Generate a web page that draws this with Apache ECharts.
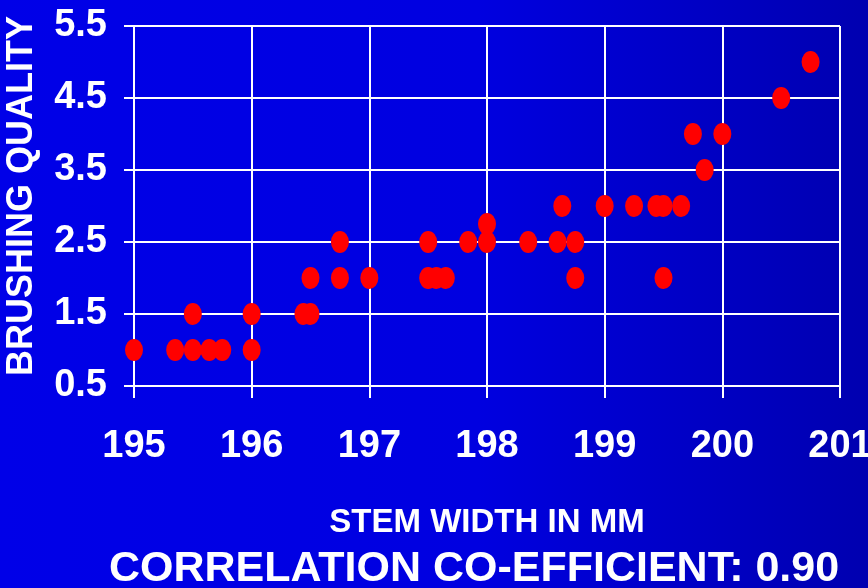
<!DOCTYPE html>
<html>
<head>
<meta charset="utf-8">
<script src="https://cdn.jsdelivr.net/npm/echarts@6/dist/echarts.min.js"></script>
<style>
  html, body { margin: 0; padding: 0; }
  #chart { width: 868px; height: 588px; }
</style>
</head>
<body>
<div id="chart"></div>
<script>
// stem width (mm) vs brushing quality
const stemWidth = [
  195.0, 195.35, 195.5, 195.5, 195.64, 195.75, 196.0, 196.0,
  196.44, 196.5, 196.5, 196.75, 196.75, 197.0, 197.5, 197.5,
  197.57, 197.65, 197.84, 198.0, 198.0, 198.35, 198.6, 198.64,
  198.75, 198.75, 199.0, 199.25, 199.44, 199.5, 199.5, 199.65,
  199.75, 199.85, 200.0, 200.5, 200.75
];
const quality = [
  1.0, 1.0, 1.0, 1.5, 1.0, 1.0, 1.5, 1.0,
  1.5, 1.5, 2.0, 2.5, 2.0, 2.0, 2.5, 2.0,
  2.0, 2.0, 2.5, 2.5, 2.75, 2.5, 2.5, 3.0,
  2.5, 2.0, 3.0, 3.0, 3.0, 3.0, 2.0, 3.0,
  4.0, 3.5, 4.0, 4.5, 5.0
];
const xTicks = [195, 196, 197, 198, 199, 200, 201];
const yTicks = [0.5, 1.5, 2.5, 3.5, 4.5, 5.5];

const font = '"Liberation Sans", Arial, sans-serif';

let points = stemWidth.map((x, i) => [x, quality[i]]);

let myChart = echarts.init(document.getElementById('chart'));
myChart.setOption({
  animation: false,
  backgroundColor: {
    type: 'linear', x: 0, y: 0, x2: 1, y2: 0,
    colorStops: [
      {offset: 0, color: '#0000e8'},
      {offset: 0.55, color: '#0000e0'},
      {offset: 1, color: '#0000b0'}
    ]
  },
  title: {
    text: 'CORRELATION CO-EFFICIENT: 0.90',
    left: 469, top: 543, textAlign: 'center',
    textStyle: {
      color: '#fff', fontFamily: font, fontWeight: 'bold', fontSize: 43,
      textShadowColor: '#111', textShadowOffsetX: 2, textShadowOffsetY: 2, textShadowBlur: 0
    }
  },
  grid: {left: 134, right: 28, top: 26, bottom: 202, containLabel: false, outerBoundsMode: 'none'},
  xAxis: {
    type: 'value', min: xTicks[0], max: xTicks[xTicks.length - 1], interval: 1,
    axisLine: {show: true, lineStyle: {color: '#fff', width: 2}},
    axisTick: {show: true, length: 12, lineStyle: {color: '#fff', width: 2}},
    splitLine: {show: true, lineStyle: {color: '#fff', width: 2}},
    axisLabel: {
      color: '#fff', fontFamily: font, fontWeight: 'bold', fontSize: 38, margin: 42,
      showMinLabel: true, showMaxLabel: true
    },
    name: 'STEM WIDTH IN MM', nameLocation: 'middle', nameGap: 120,
    nameTextStyle: {color: '#fff', fontFamily: font, fontWeight: 'bold', fontSize: 33}
  },
  yAxis: {
    type: 'value', min: yTicks[0], max: yTicks[yTicks.length - 1], interval: 1,
    axisLine: {show: true, lineStyle: {color: '#fff', width: 2}},
    axisTick: {show: true, length: 10, lineStyle: {color: '#fff', width: 2}},
    splitLine: {show: true, lineStyle: {color: '#fff', width: 2}},
    axisLabel: {
      color: '#fff', fontFamily: font, fontWeight: 'bold', fontSize: 38, margin: 27,
      formatter: v => v.toFixed(1)
    },
    name: 'BRUSHING QUALITY', nameLocation: 'middle', nameGap: 94, nameRotate: 90,
    nameTextStyle: {
      color: '#fff', fontFamily: font, fontWeight: 'bold', fontSize: 36,
      padding: [0, 0, 0, 20]
    }
  },
  series: [{
    type: 'scatter',
    data: points,
    symbol: 'circle',
    symbolSize: [18, 22],
    itemStyle: {color: '#ff0000', opacity: 1},
    z: 5
  }]
});
</script>
</body>
</html>
